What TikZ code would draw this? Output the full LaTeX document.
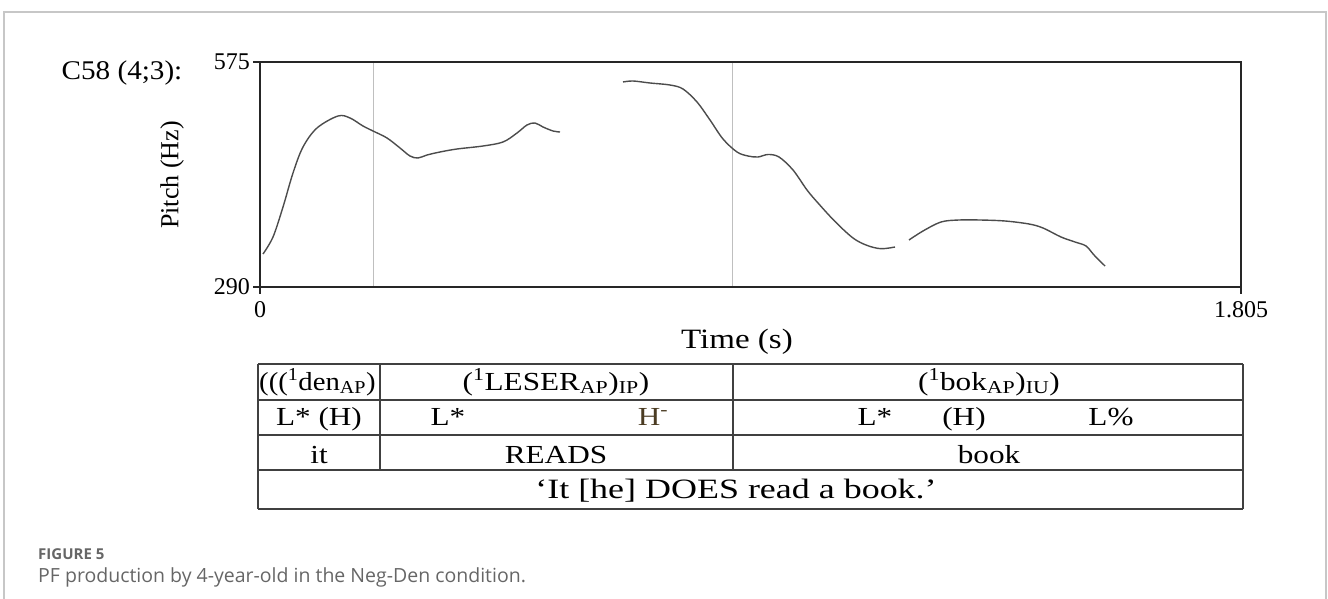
\documentclass[tikz,border=0pt]{standalone}
\usepackage{fontspec}
\setmainfont{Liberation Serif}
\newfontfamily\capfont{Open Sans}
\begin{document}
\begin{tikzpicture}[x=1pt, y=-1pt,
    lbl/.style={font=\fontsize{24}{28}\selectfont, inner sep=0pt},
    cell/.style={font=\fontsize{26}{30}\selectfont, inner sep=0pt, xscale=1.2},
    plotframe/.style={line width=2pt, draw=black!85},
    guide/.style={line width=1pt, draw=black!25},
    contour/.style={line width=1.4pt, draw=black!70, smooth, tension=0.55},
    tabline/.style={line width=1.6pt, draw=black!75}]
    \useasboundingbox (0,0) rectangle (1328,599);
    % Outer frame
    \draw[line width=1.2pt, draw=black!22] (4,599) -- (4,12) -- (1326,12) -- (1326,599);

    % Speaker label
    \node[lbl, font=\fontsize{27}{31}\selectfont, xscale=1.08, anchor=base] (c58) at (122,80) {C58 (4;3):};

    % Pitch plot
    \draw[guide] (373,62) -- (373,287);
    \draw[guide] (732,62) -- (732,287);
    \draw[plotframe] (260,62) rectangle (1241,287);
    \draw[plotframe] (253,62) -- (260,62);
    \draw[plotframe] (253,287) -- (260,287);
    \draw[plotframe] (260,287) -- (260,294);
    \draw[plotframe] (1241,287) -- (1241,294);

    % Axis labels
    \node[lbl, anchor=east] (y575) at (250,62) {575};
    \node[lbl, anchor=east] (y290) at (250,287) {290};
    \node[lbl, anchor=north] (x0) at (260,301) {0};
    \node[lbl, anchor=north] (x1805) at (1241,301) {1.805};
    \node[lbl, font=\fontsize{28}{32}\selectfont, xscale=1.18] (timelbl) at (737,342) {Time (s)};
    \node[lbl, font=\fontsize{26}{30}\selectfont, rotate=90] (pitchlbl) at (172,175) {Pitch (Hz)};

    % Pitch contour
    \draw[contour] plot coordinates {(263,254) (273,237) (283,207) (293,173) (303,147)
        (317,128) (338,116) (350,118) (363,126) (373,131) (387,138) (400,148)
        (410,156) (418,158) (427,155) (440,152) (457,149) (483,146) (503,142)
        (517,133) (527,125) (535,123) (543,127) (553,131) (560,132)};
    \draw[contour] plot coordinates {(623,82) (633,81) (650,83) (670,85) (683,89)
        (697,102) (710,120) (723,139) (737,152) (748,156) (758,157) (768,154.5)
        (779,157) (793,170) (807,190) (818,203) (835,221.5) (853,238) (867,245.4)
        (881,248.7) (895,247)};
    \draw[contour] plot coordinates {(909,240) (923,231) (941,222) (959,220) (980,220)
        (1005,221) (1029,224) (1043,228) (1061,237) (1075,242) (1086,246)
        (1094,255) (1105,266)};

    % Table
    \foreach \y in {364,400,435,470,509} {
        \draw[tabline] (258,\y) -- (1243,\y);
    }
    \draw[tabline] (258,364) -- (258,509);
    \draw[tabline] (1243,364) -- (1243,509);
    \draw[tabline] (380,364) -- (380,470);
    \draw[tabline] (733,364) -- (733,470);

    % Table contents
    \node[cell, xscale=0.92, anchor=base west] (den) at (259,390) {(((\textsuperscript{1}den\textsubscript{AP})};
    \node[cell, anchor=base] (leser) at (556,390) {(\textsuperscript{1}LESER\textsubscript{AP})\textsubscript{IP})};
    \node[cell, anchor=base] (bok) at (989,390) {(\textsuperscript{1}bok\textsubscript{AP})\textsubscript{IU})};
    \node[cell, anchor=base] (tone1) at (319,425) {L* (H)};
    \node[cell, anchor=base] (tone2) at (448,425) {L*};
    \node[cell, anchor=base, text={rgb,255:red,75;green,60;blue,35}] (tone3) at (653,425) {H\textsuperscript{-}};
    \node[cell, anchor=base] (tone4) at (875,425) {L*};
    \node[cell, anchor=base] (tone5) at (964,425) {(H)};
    \node[cell, anchor=base] (tone6) at (1111,425) {L\%};
    \node[cell, anchor=base] (it) at (319,463) {it};
    \node[cell, anchor=base] (reads) at (556,463) {READS};
    \node[cell, anchor=base] (book) at (989,463) {book};
    \node[cell, font=\fontsize{28}{32}\selectfont, xscale=1.07, anchor=base] (gloss) at (736,498) {`It [he] DOES read a book.'};

    % Caption
    \node[inner sep=0pt, anchor=base west, text=black!60, font=\capfont\bfseries\fontsize{15}{17}\selectfont] (capfig) at (38,559) {FIGURE 5};
    \node[inner sep=0pt, anchor=base west, text=black!60, font=\capfont\fontsize{19.5}{23}\selectfont] (captxt) at (38,582) {PF production by 4-year-old in the Neg-Den condition.};
\end{tikzpicture}
\end{document}
